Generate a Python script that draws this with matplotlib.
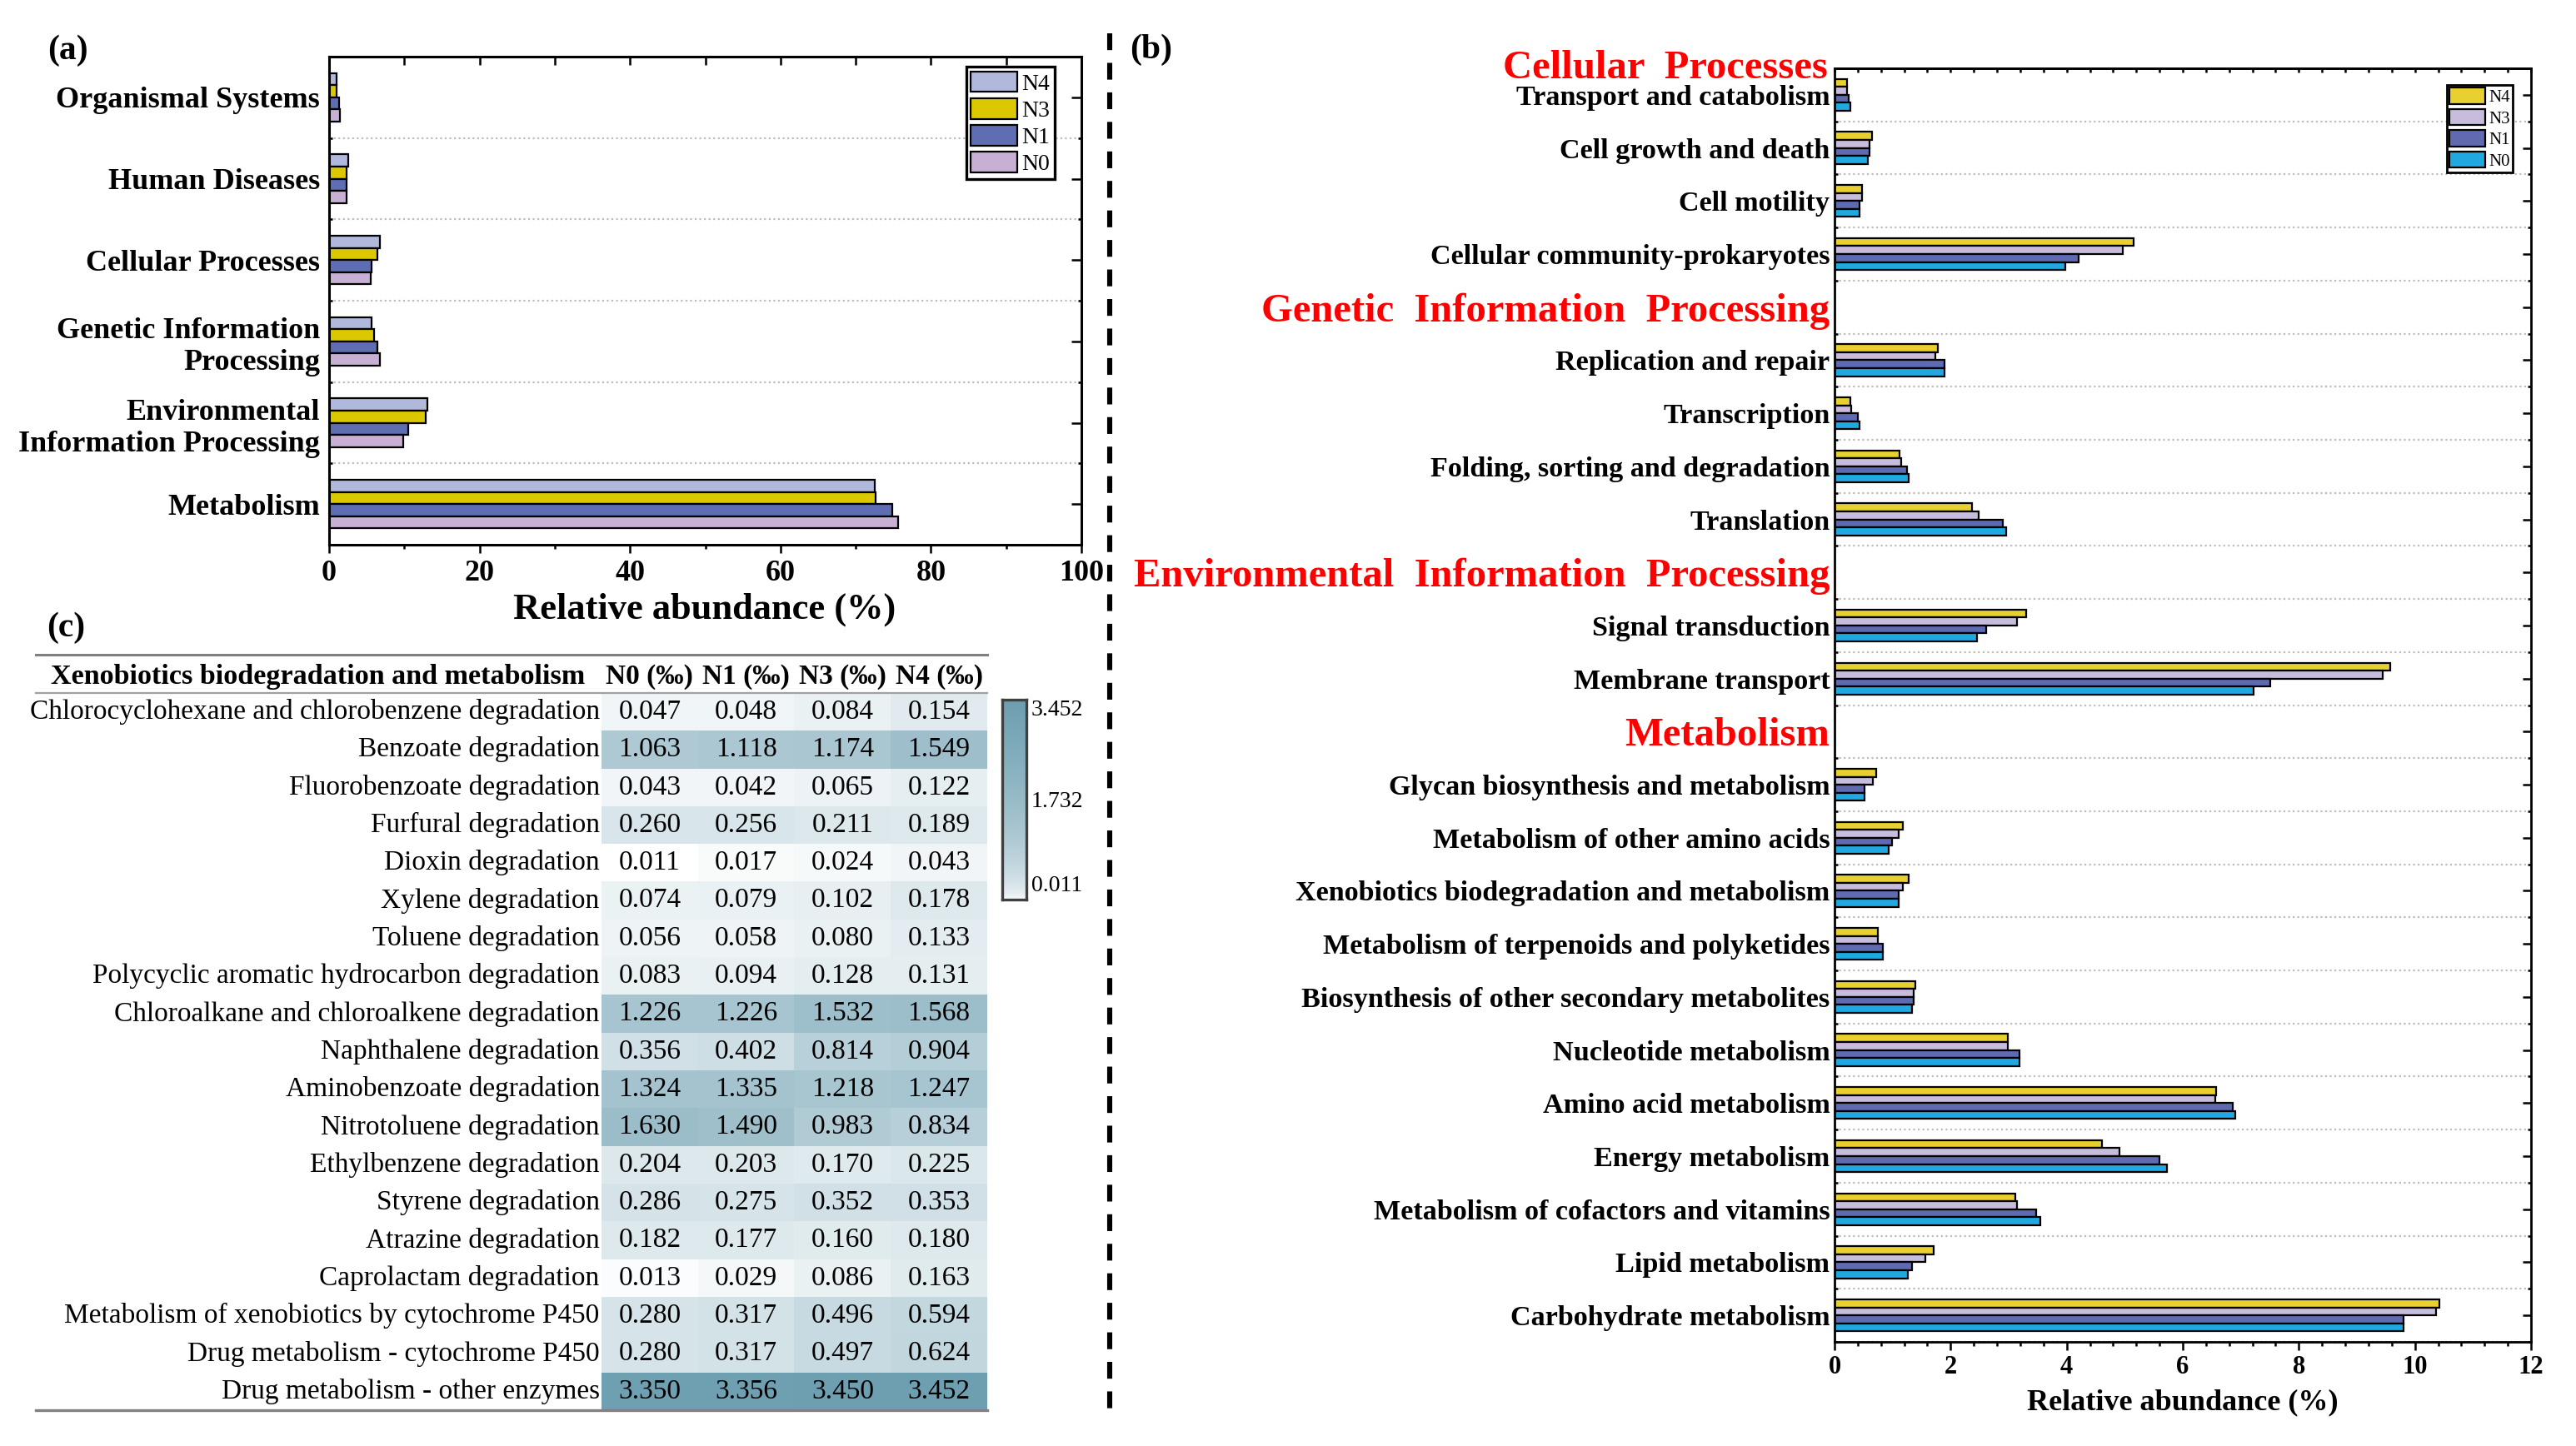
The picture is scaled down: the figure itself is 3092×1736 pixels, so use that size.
import numpy as np
import matplotlib
matplotlib.use("Agg")
import matplotlib.pyplot as plt
from matplotlib.colors import LinearSegmentedColormap, PowerNorm
from matplotlib.lines import Line2D

plt.rcParams['font.family'] = ['Liberation Serif', 'DejaVu Serif']

# ---------------- panel (a) data ----------------
cats_a = ["Organismal Systems", "Human Diseases", "Cellular Processes",
          "Genetic Information\nProcessing", "Environmental\nInformation Processing", "Metabolism"]
a_n4 = [1.0, 2.5, 6.8, 5.7, 13.1, 72.5]
a_n3 = [1.0, 2.3, 6.4, 6.0, 12.9, 72.7]
a_n1 = [1.3, 2.3, 5.7, 6.4, 10.5, 74.9]
a_n0 = [1.4, 2.3, 5.5, 6.8, 9.9, 75.6]

# ---------------- panel (b) data ----------------
b_groups = ["Cellular  Processes", "Genetic  Information  Processing",
            "Environmental  Information  Processing", "Metabolism"]
b_cellular = ["Transport and catabolism", "Cell growth and death", "Cell motility",
              "Cellular community-prokaryotes"]
b_genetic = ["Replication and repair", "Transcription", "Folding, sorting and degradation", "Translation"]
b_env = ["Signal transduction", "Membrane transport"]
b_metab = ["Glycan biosynthesis and metabolism", "Metabolism of other amino acids",
           "Xenobiotics biodegradation and metabolism", "Metabolism of terpenoids and polyketides",
           "Biosynthesis of other secondary metabolites", "Nucleotide metabolism",
           "Amino acid metabolism", "Energy metabolism", "Metabolism of cofactors and vitamins",
           "Lipid metabolism", "Carbohydrate metabolism"]
b_n4 = [0.21, 0.64, 0.48, 5.15, 1.78, 0.27, 1.12, 2.37, 3.30, 9.58,
        0.72, 1.18, 1.28, 0.75, 1.39, 2.99, 6.58, 4.61, 3.12, 1.71, 10.42]
b_n3 = [0.21, 0.61, 0.48, 4.96, 1.74, 0.29, 1.15, 2.48, 3.14, 9.44,
        0.66, 1.10, 1.18, 0.74, 1.36, 2.99, 6.56, 4.91, 3.15, 1.57, 10.37]
b_n1 = [0.24, 0.61, 0.43, 4.21, 1.89, 0.40, 1.25, 2.90, 2.61, 7.50,
        0.51, 0.99, 1.10, 0.83, 1.36, 3.18, 6.86, 5.60, 3.47, 1.33, 9.81]
b_n0 = [0.27, 0.58, 0.43, 3.98, 1.89, 0.43, 1.28, 2.96, 2.45, 7.22,
        0.51, 0.94, 1.10, 0.83, 1.33, 3.18, 6.90, 5.73, 3.55, 1.26, 9.81]

# ---------------- panel (c) data ----------------
rows_c = ["Chlorocyclohexane and chlorobenzene degradation", "Benzoate degradation",
          "Fluorobenzoate degradation", "Furfural degradation", "Dioxin degradation",
          "Xylene degradation", "Toluene degradation", "Polycyclic aromatic hydrocarbon degradation",
          "Chloroalkane and chloroalkene degradation", "Naphthalene degradation",
          "Aminobenzoate degradation", "Nitrotoluene degradation", "Ethylbenzene degradation",
          "Styrene degradation", "Atrazine degradation", "Caprolactam degradation",
          "Metabolism of xenobiotics by cytochrome P450", "Drug metabolism - cytochrome P450",
          "Drug metabolism - other enzymes"]
cols_c = ["N0 (‰)", "N1 (‰)", "N3 (‰)", "N4 (‰)"]
c_n0 = [0.047, 1.063, 0.043, 0.260, 0.011, 0.074, 0.056, 0.083, 1.226, 0.356,
        1.324, 1.630, 0.204, 0.286, 0.182, 0.013, 0.280, 0.280, 3.350]
c_n1 = [0.048, 1.118, 0.042, 0.256, 0.017, 0.079, 0.058, 0.094, 1.226, 0.402,
        1.335, 1.490, 0.203, 0.275, 0.177, 0.029, 0.317, 0.317, 3.356]
c_n3 = [0.084, 1.174, 0.065, 0.211, 0.024, 0.102, 0.080, 0.128, 1.532, 0.814,
        1.218, 0.983, 0.170, 0.352, 0.160, 0.086, 0.496, 0.497, 3.450]
c_n4 = [0.154, 1.549, 0.122, 0.189, 0.043, 0.178, 0.133, 0.131, 1.568, 0.904,
        1.247, 0.834, 0.225, 0.353, 0.180, 0.163, 0.594, 0.624, 3.452]

W, H = 3092, 1736
DPI = 200
fig = plt.figure(figsize=(W / DPI, H / DPI), dpi=DPI)


def add_px_axes(l, t, r, b):
    return fig.add_axes([l / W, 1 - b / H, (r - l) / W, (b - t) / H])


def px_text(x, y, s, **kw):
    fig.text(x / W, 1 - y / H, s, **kw)


offsets = [-0.225, -0.075, 0.075, 0.225]
bar_h = 0.15
grid_style = dict(linestyle=(0, (1, 1.5)), color='#bdbdbd', linewidth=0.8)

# ------------------------- Panel (a) -------------------------
ax_a = add_px_axes(395, 68, 1298, 654)
y_a = np.arange(len(cats_a))
series_a = [("N4", a_n4, '#b0b8dc'), ("N3", a_n3, '#dcc800'),
            ("N1", a_n1, '#5f6db3'), ("N0", a_n0, '#c8b0d4')]
for (name, vals, col), off in zip(series_a, offsets):
    ax_a.barh(y_a + off, vals, height=bar_h, color=col, edgecolor='black', linewidth=0.8, label=name)
ax_a.set_xlim(0, 100)
ax_a.set_ylim(len(cats_a) - 0.5, -0.5)
ax_a.set_yticks(y_a)
ax_a.set_yticklabels(cats_a, fontsize=13, fontweight='bold')
ax_a.set_yticks(np.arange(-0.5, len(cats_a), 1), minor=True)
ax_a.grid(axis='y', which='minor', **grid_style)
ax_a.set_axisbelow(True)
ax_a.tick_params(axis='y', which='major', left=False, right=True, direction='in', length=4.3, width=0.9, pad=4)
ax_a.tick_params(axis='y', which='minor', left=True, right=True, direction='in', length=1.6, width=0.9)
ax_a.set_xticks(np.arange(0, 101, 20))
ax_a.set_xticks(np.arange(10, 100, 20), minor=True)
ax_a.tick_params(axis='x', which='major', direction='out', length=3.6, width=0.9, labelsize=13, pad=3)
ax_a.tick_params(axis='x', which='minor', direction='out', length=1.8, width=0.9)
for lab in ax_a.get_xticklabels():
    lab.set_fontweight('bold')
top_a = ax_a.secondary_xaxis('top')
top_a.set_xticks(np.arange(0, 101, 10))
top_a.tick_params(direction='in', length=3.6, width=0.9, labeltop=False)
for sp in list(ax_a.spines.values()) + list(top_a.spines.values()):
    sp.set_linewidth(1.1)
leg_a = ax_a.legend(loc='upper right', bbox_to_anchor=(1266 / W, 1 - 80 / H), bbox_transform=fig.transFigure,
                    fontsize=10, handlelength=2.0, handleheight=1.0, labelspacing=0.15,
                    handletextpad=0.2, borderpad=0.2, borderaxespad=0, fancybox=False, framealpha=1)
leg_a.get_frame().set_edgecolor('black')
leg_a.get_frame().set_linewidth(1.2)
px_text(846, 732, "Relative abundance (%)", fontsize=16, fontweight='bold', ha='center', va='center')
px_text(81, 61, "(a)", fontsize=15, fontweight='bold', ha='center', va='center')

# ------------------------- Panel (b) -------------------------
ax_b = add_px_axes(2202, 82, 3038, 1611)
row_labels, row_is_header, y_b = [], [], []
r = 0
for g, (grp, items) in enumerate(zip(b_groups, [b_cellular, b_genetic, b_env, b_metab])):
    if g > 0:
        row_labels.append(grp)
        row_is_header.append(True)
        r += 1
    for it in items:
        row_labels.append(it)
        row_is_header.append(False)
        y_b.append(r)
        r += 1
n_rows = r
y_b = np.array(y_b)
series_b = [("N4", b_n4, '#e8d030'), ("N3", b_n3, '#c8bcdc'),
            ("N1", b_n1, '#5f6ab0'), ("N0", b_n0, '#20a8e0')]
for (name, vals, col), off in zip(series_b, offsets):
    ax_b.barh(y_b + off, vals, height=bar_h, color=col, edgecolor='black', linewidth=0.8, label=name)
ax_b.set_xlim(0, 12)
ax_b.set_ylim(n_rows - 0.5, -0.5)
ax_b.set_yticks(np.arange(n_rows))
ax_b.set_yticklabels(row_labels)
for lab, hdr in zip(ax_b.get_yticklabels(), row_is_header):
    if hdr:
        lab.set_color('red')
        lab.set_fontsize(17.5)
    else:
        lab.set_fontsize(12.3)
    lab.set_fontweight('bold')
ax_b.text(-0.01, -0.5, b_groups[0], transform=ax_b.get_yaxis_transform(), color='red', fontsize=17.5,
          fontweight='bold', ha='right', va='center')
ax_b.set_yticks(np.arange(-0.5, n_rows, 1), minor=True)
ax_b.grid(axis='y', which='minor', **grid_style)
ax_b.set_axisbelow(True)
ax_b.tick_params(axis='y', which='major', left=False, right=True, direction='in', length=3.6, width=0.9, pad=2)
ax_b.tick_params(axis='y', which='minor', left=True, right=True, direction='in', length=1.4, width=0.9)
ax_b.set_xticks(np.arange(0, 13, 2))
ax_b.set_xticks(np.arange(0, 12.01, 0.4), minor=True)
ax_b.tick_params(axis='x', which='major', direction='out', length=3.6, width=0.9, labelsize=11, pad=2)
ax_b.tick_params(axis='x', which='minor', direction='out', length=1.8, width=0.9)
for lab in ax_b.get_xticklabels():
    lab.set_fontweight('bold')
top_b = ax_b.secondary_xaxis('top')
top_b.set_xticks(np.arange(0, 12.01, 0.4))
top_b.tick_params(direction='in', length=1.8, width=0.9, labeltop=False)
for sp in list(ax_b.spines.values()) + list(top_b.spines.values()):
    sp.set_linewidth(1.0)
leg_b = ax_b.legend(loc='upper right', bbox_to_anchor=(3016 / W, 1 - 102 / H), bbox_transform=fig.transFigure,
                    fontsize=7.5, handlelength=2.06, handleheight=1.06, labelspacing=0.18,
                    handletextpad=0.2, borderpad=0.15, borderaxespad=0, fancybox=False, framealpha=1)
leg_b.get_frame().set_edgecolor('black')
leg_b.get_frame().set_linewidth(1.0)
px_text(2620, 1684, "Relative abundance (%)", fontsize=13, fontweight='bold', ha='center', va='center')
px_text(1382, 60, "(b)", fontsize=15, fontweight='bold', ha='center', va='center')

# ------------------------- Panel (c) -------------------------
data_c = np.array([c_n0, c_n1, c_n3, c_n4]).T
vmin, vmax = data_c.min(), data_c.max()
cmap_c = LinearSegmentedColormap.from_list("heat", ['#ffffff', '#6d9fb1'])
norm_c = PowerNorm(gamma=0.5, vmin=vmin, vmax=vmax)
ax_c = add_px_axes(722, 832, 1185, 1693)
ax_c.imshow(data_c, cmap=cmap_c, norm=norm_c, aspect='auto', interpolation='nearest')
ax_c.set_xlim(-0.5, 3.5)
ax_c.set_ylim(len(rows_c) - 0.5, -0.5)
ax_c.axis('off')
for i, name in enumerate(rows_c):
    ax_c.text(-0.52, i, name, ha='right', va='center', fontsize=12)
    for j in range(data_c.shape[1]):
        ax_c.text(j, i, f"{data_c[i, j]:.3f}", ha='center', va='center', fontsize=12)
ax_c.text(-3.44, -0.93, "Xenobiotics biodegradation and metabolism", ha='center', va='center',
          fontsize=12.3, fontweight='bold')
for j, col in enumerate(cols_c):
    ax_c.text(j, -0.93, col, ha='center', va='center', fontsize=12, fontweight='bold')
x_left = -0.5 - (722 - 43) / 115.8
ax_c.plot([x_left, 3.5], [-1.52, -1.52], color='#808080', lw=1.1, clip_on=False)
ax_c.plot([x_left, 3.5], [-0.5, -0.5], color='#a0a0a0', lw=0.8, clip_on=False)
ax_c.plot([x_left, 3.5], [len(rows_c) - 0.5, len(rows_c) - 0.5], color='#808080', lw=1.2, clip_on=False)
px_text(79, 754, "(c)", fontsize=15, fontweight='bold', ha='center', va='center')

# colorbar
ax_cb = add_px_axes(1203, 840, 1232, 1080)
grad = np.linspace(vmin, vmax, 256)[:, None]
ax_cb.imshow(grad, cmap=cmap_c, norm=norm_c, aspect='auto', origin='lower')
ax_cb.set_xticks([])
ax_cb.set_yticks([])
for sp in ax_cb.spines.values():
    sp.set_color('#404040')
    sp.set_linewidth(1.2)
cb_labels = [vmax, (vmin + vmax) / 2, vmin]
cb_pos = [0.946, 0.49, 0.07]
for v, p in zip(cb_labels, cb_pos):
    ax_cb.text(1.2, p, f"{v:.3f}", transform=ax_cb.transAxes, ha='left', va='center', fontsize=10)

# dashed separator
fig.add_artist(Line2D([1332 / W, 1332 / W], [1 - 40 / H, 1 - 1700 / H], transform=fig.transFigure,
                      color='black', lw=2.2, linestyle=(0, (3.3, 2.5))))

fig.savefig("out.png", dpi=DPI)
